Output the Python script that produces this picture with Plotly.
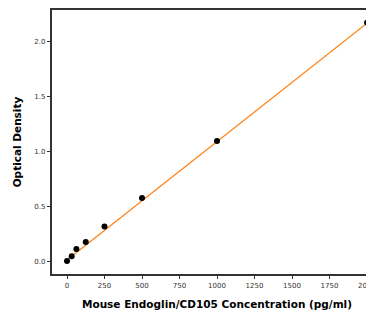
import plotly.graph_objects as go

conc = [0, 31.25, 62.5, 125, 250, 500, 1000, 2000]
od = [0.0, 0.045, 0.11, 0.175, 0.315, 0.575, 1.095, 2.175]
fit_x = [0, 2000]
fit_y = [0.01, 2.17]
x_ticks = [0, 250, 500, 750, 1000, 1250, 1500, 1750, 2000]
y_ticks = [0.0, 0.5, 1.0, 1.5, 2.0]

fig = go.Figure()
fig.add_trace(go.Scatter(x=fit_x, y=fit_y, mode="lines",
                         line=dict(color="#ff7f0e", width=1.2), hoverinfo="skip"))
fig.add_trace(go.Scatter(x=conc, y=od, mode="markers",
                         marker=dict(color="black", size=6)))

axis_common = dict(showline=True, linecolor="#333333", linewidth=1.5, mirror=True,
                   ticks="outside", ticklen=3.5, tickwidth=0.8, tickcolor="#333333",
                   showgrid=False, zeroline=False,
                   tickfont=dict(family="DejaVu Sans", size=7, color="#333333"))

fig.update_layout(
    width=382, height=310,
    margin=dict(l=44, r=8, t=0, b=44, pad=0),
    paper_bgcolor="white", plot_bgcolor="white",
    showlegend=False,
    xaxis=dict(range=[-100, 2100], tickvals=x_ticks,
               ticktext=[str(v) for v in x_ticks],
               title=dict(text="<b>Mouse Endoglin/CD105 Concentration (pg/ml)</b>",
                          font=dict(family="DejaVu Sans", size=10.5, color="black"),
                          standoff=12),
               **axis_common),
    yaxis=dict(range=[-0.118, 2.29], tickvals=y_ticks,
               ticktext=[f"{v:.1f}" for v in y_ticks],
               title=dict(text="<b>Optical Density</b>",
                          font=dict(family="DejaVu Sans", size=10.5, color="black"),
                          standoff=11),
               **axis_common),
)

fig.write_html("out.html")
